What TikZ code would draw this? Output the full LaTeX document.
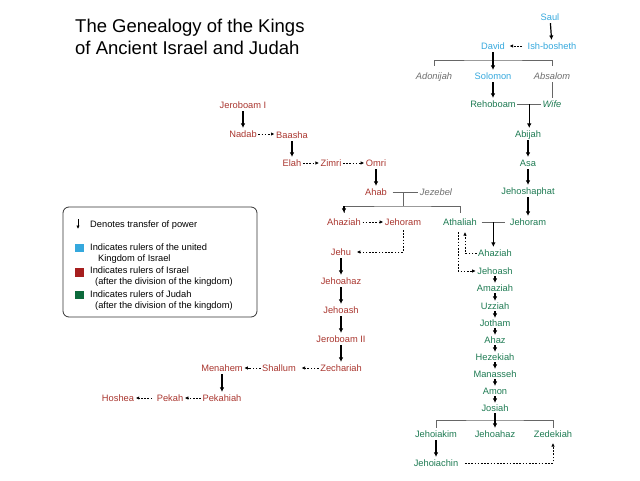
\documentclass[tikz,border=0pt]{standalone}
\usepackage{fontspec}
\setmainfont{Liberation Sans}
\usetikzlibrary{arrows.meta,calc}
\definecolor{united}{HTML}{35A8DD}
\definecolor{israel}{HTML}{A9352E}
\definecolor{judah}{HTML}{1D7A52}
\definecolor{israelbox}{HTML}{A61E1E}
\definecolor{judahbox}{HTML}{0C6A3B}
\definecolor{other}{HTML}{6D6D6D}
\tikzset{>={Latex[length=4.5pt,width=4.5pt]}}
\tikzset{
  king/.style={font=\fontsize{9.3}{11}\selectfont,text height=6.7pt,text depth=0pt,
    inner xsep=1.5pt,inner ysep=2.5pt},
  uk/.style={king,text=united},
  ik/.style={king,text=israel},
  jk/.style={king,text=judah},
  ok/.style={king,text=other,font=\fontsize{9.3}{11}\selectfont\itshape},
  tight/.style={inner ysep=1.5pt},
  pow/.style={->,line width=1.2pt},
  succ/.style={->,line width=0.85pt,dash pattern=on 1.6pt off 1.6pt,
    >={Latex[length=3.5pt,width=3.5pt]}},
  family/.style={line width=1pt,draw=black!60},
  legtext/.style={font=\fontsize{9.3}{11}\selectfont,text height=6.7pt,text depth=0pt,
    inner sep=0pt,anchor=west},
}

\begin{document}
\begin{tikzpicture}[x=1pt,y=-1pt]
  \useasboundingbox (0,0) rectangle (640,480);

  % Title
  \node[anchor=north west,inner sep=0pt,align=left,font=\fontsize{18.5}{22}\selectfont]
    (title) at (75,18.5) {The Genealogy of the Kings\\of Ancient Israel and Judah};

  % United kingdom
  \node[uk] (saul) at (550,17) {Saul};
  \node[uk] (ishb) at (552,46) {Ish-bosheth};
  \node[uk] (david) at (493,46) {David};
  \node[ok] (adonijah) at (434,76) {Adonijah};
  \node[uk] (solomon) at (493,76) {Solomon};
  \node[ok] (absalom) at (552,76) {Absalom};

  % Judah
  \node[jk] (rehoboam) at (493,104) {Rehoboam};
  \node[jk,font=\fontsize{9.3}{11}\selectfont\itshape] (wife) at (552,104) {Wife};
  \node[jk] (abijah) at (528,134) {Abijah};
  \node[jk] (asa) at (528,163) {Asa};
  \node[jk] (jehoshaphat) at (528,191) {Jehoshaphat};
  \node[jk] (jehoramJ) at (528,222) {Jehoram};
  \node[jk] (athaliah) at (460,222) {Athaliah};
  \node[jk] (ahaziahJ) at (495,253) {Ahaziah};
  \node[jk,tight] (jehoashJ) at (495,271) {Jehoash};
  \node[jk,tight] (amaziah) at (495,288) {Amaziah};
  \node[jk,tight] (uzziah) at (495,306) {Uzziah};
  \node[jk,tight] (jotham) at (495,323) {Jotham};
  \node[jk,tight] (ahaz) at (495,340) {Ahaz};
  \node[jk,tight] (hezekiah) at (495,357) {Hezekiah};
  \node[jk,tight] (manasseh) at (495,374) {Manasseh};
  \node[jk,tight] (amon) at (495,391) {Amon};
  \node[jk,tight] (josiah) at (495,408) {Josiah};
  \node[jk] (jehoiakim) at (436,434) {Jehoiakim};
  \node[jk] (jehoahazJ) at (495,434) {Jehoahaz};
  \node[jk] (zedekiah) at (553,434) {Zedekiah};
  \node[jk] (jehoiachin) at (436,463) {Jehoiachin};

  % Israel
  \node[ik] (jeroboamI) at (243,105) {Jeroboam I};
  \node[ik] (nadab) at (243,134) {Nadab};
  \node[ik] (baasha) at (292,135) {Baasha};
  \node[ik] (elah) at (292,163) {Elah};
  \node[ik] (zimri) at (331,163) {Zimri};
  \node[ik] (omri) at (376,163) {Omri};
  \node[ik] (ahab) at (376,192) {Ahab};
  \node[ok] (jezebel) at (436,192) {Jezebel};
  \node[ik] (ahaziahI) at (344,222) {Ahaziah};
  \node[ik] (jehoramI) at (403,222) {Jehoram};
  \node[ik] (jehu) at (341,252) {Jehu};
  \node[ik] (jehoahazI) at (341,281) {Jehoahaz};
  \node[ik] (jehoashI) at (341,310) {Jehoash};
  \node[ik] (jeroboamII) at (341,339) {Jeroboam II};
  \node[ik] (zechariah) at (341,368) {Zechariah};
  \node[ik] (shallum) at (279,368) {Shallum};
  \node[ik] (menahem) at (222,368) {Menahem};
  \node[ik] (pekahiah) at (222,398) {Pekahiah};
  \node[ik] (pekah) at (170,398) {Pekah};
  \node[ik] (hoshea) at (118,398) {Hoshea};

  % Junctions
  \coordinate (davbr) at (493,60);
  \coordinate (rwj) at ($(rehoboam.east)!0.5!(wife.west)$);
  \coordinate (atj) at ($(athaliah.east)!0.5!(jehoramJ.west)$);
  \coordinate (josbr) at (495,420);
  \coordinate (aj) at (jehoramI |- ahab);
  \coordinate (ajbr) at (403,206);

  % Lines, united kingdom and Judah
  \draw[pow] (saul) -- (ishb);
  \draw[succ,shorten <=4pt,shorten >=3pt] (ishb) -- (david);
  \draw[family,shorten <=4pt,shorten >=4pt] (adonijah.north) |- (davbr) -| (absalom.north);
  \draw[pow] (david) -- (solomon);
  \draw[family] (absalom) -- (wife);
  \draw[pow] (solomon) -- (rehoboam);
  \draw[family] (rehoboam) -- (wife);
  \draw[pow] (rwj) -- (rwj |- abijah.north);
  \draw[pow] (abijah) -- (asa);
  \draw[pow] (asa) -- (jehoshaphat);
  \draw[pow] (jehoshaphat) -- (jehoramJ);
  \draw[family,shorten <=3pt,shorten >=3pt] (athaliah) -- (jehoramJ);
  \draw[pow] (atj) -- (atj |- ahaziahJ.north);
  \draw[succ,shorten >=4pt] (ahaziahJ.west) -| ([xshift=5pt]athaliah.south);
  \draw[succ,shorten <=4pt] ([xshift=-2pt]athaliah.south) |- (jehoashJ.west);
  \draw[pow] (jehoashJ) -- (amaziah);
  \draw[pow] (amaziah) -- (uzziah);
  \draw[pow] (uzziah) -- (jotham);
  \draw[pow] (jotham) -- (ahaz);
  \draw[pow] (ahaz) -- (hezekiah);
  \draw[pow] (hezekiah) -- (manasseh);
  \draw[pow] (manasseh) -- (amon);
  \draw[pow] (amon) -- (josiah);
  \draw[family] (jehoiakim.north) |- (josbr) -| (zedekiah.north);
  \draw[pow] (josiah) -- (jehoahazJ);
  \draw[pow] (jehoiakim) -- (jehoiachin);
  \draw[succ,shorten <=5pt,shorten >=3pt] (jehoiachin) -| (zedekiah);

  % Lines, Israel
  \draw[pow] (jeroboamI) -- (nadab);
  \draw[succ] (nadab) -- (nadab -| baasha.west);
  \draw[pow] (baasha) -- (elah);
  \draw[succ] (elah) -- (zimri);
  \draw[succ] (zimri) -- (omri);
  \draw[pow] (omri) -- (ahab);
  \draw[family,shorten <=4pt] (ahab) -- (jezebel);
  \draw[family] (aj) -- (ajbr);
  \draw[family,shorten <=3pt,shorten >=3pt] (ahaziahI.north) |- (ajbr) -| (athaliah.north);
  \draw[pow,shorten >=3pt] (ajbr -| ahaziahI) -- (ahaziahI);
  \draw[succ] (ahaziahI) -- (jehoramI);
  \draw[succ,shorten <=2pt,shorten >=4pt] (jehoramI) |- (jehu);
  \draw[pow] (jehu) -- (jehoahazI);
  \draw[pow] (jehoahazI) -- (jehoashI);
  \draw[pow] (jehoashI) -- (jeroboamII);
  \draw[pow] (jeroboamII) -- (zechariah);
  \draw[succ,shorten >=4pt] (zechariah) -- (shallum);
  \draw[succ] (shallum) -- (menahem);
  \draw[pow] (menahem) -- (pekahiah);
  \draw[succ] (pekahiah) -- (pekah);
  \draw[succ,shorten <=3pt] (pekah) -- (hoshea);

  % Legend
  \draw[rounded corners=6pt,line width=0.8pt,draw=black!80] (63,207) rectangle (257,317);
  \coordinate (la1) at (78,219);
  \coordinate (la2) at (78,229);
  \draw[pow,line width=1pt,>={Latex[length=3.5pt,width=3.5pt]}] (la1) -- (la2);
  \fill[united] (75,243.5) rectangle (83.5,252);
  \fill[israelbox] (75,268) rectangle (83.5,276.5);
  \fill[judahbox] (75,290.5) rectangle (83.5,299);
  \node[legtext] (l1) at (90,224) {Denotes transfer of power};
  \node[legtext] (l2) at (90,247) {Indicates rulers of the united};
  \node[legtext] (l3) at (98,258) {Kingdom of Israel};
  \node[legtext] (l4) at (90,270) {Indicates rulers of Israel};
  \node[legtext] (l5) at (95,281) {(after the division of the kingdom)};
  \node[legtext] (l6) at (90,294) {Indicates rulers of Judah};
  \node[legtext] (l7) at (95,305) {(after the division of the kingdom)};
\end{tikzpicture}
\end{document}
